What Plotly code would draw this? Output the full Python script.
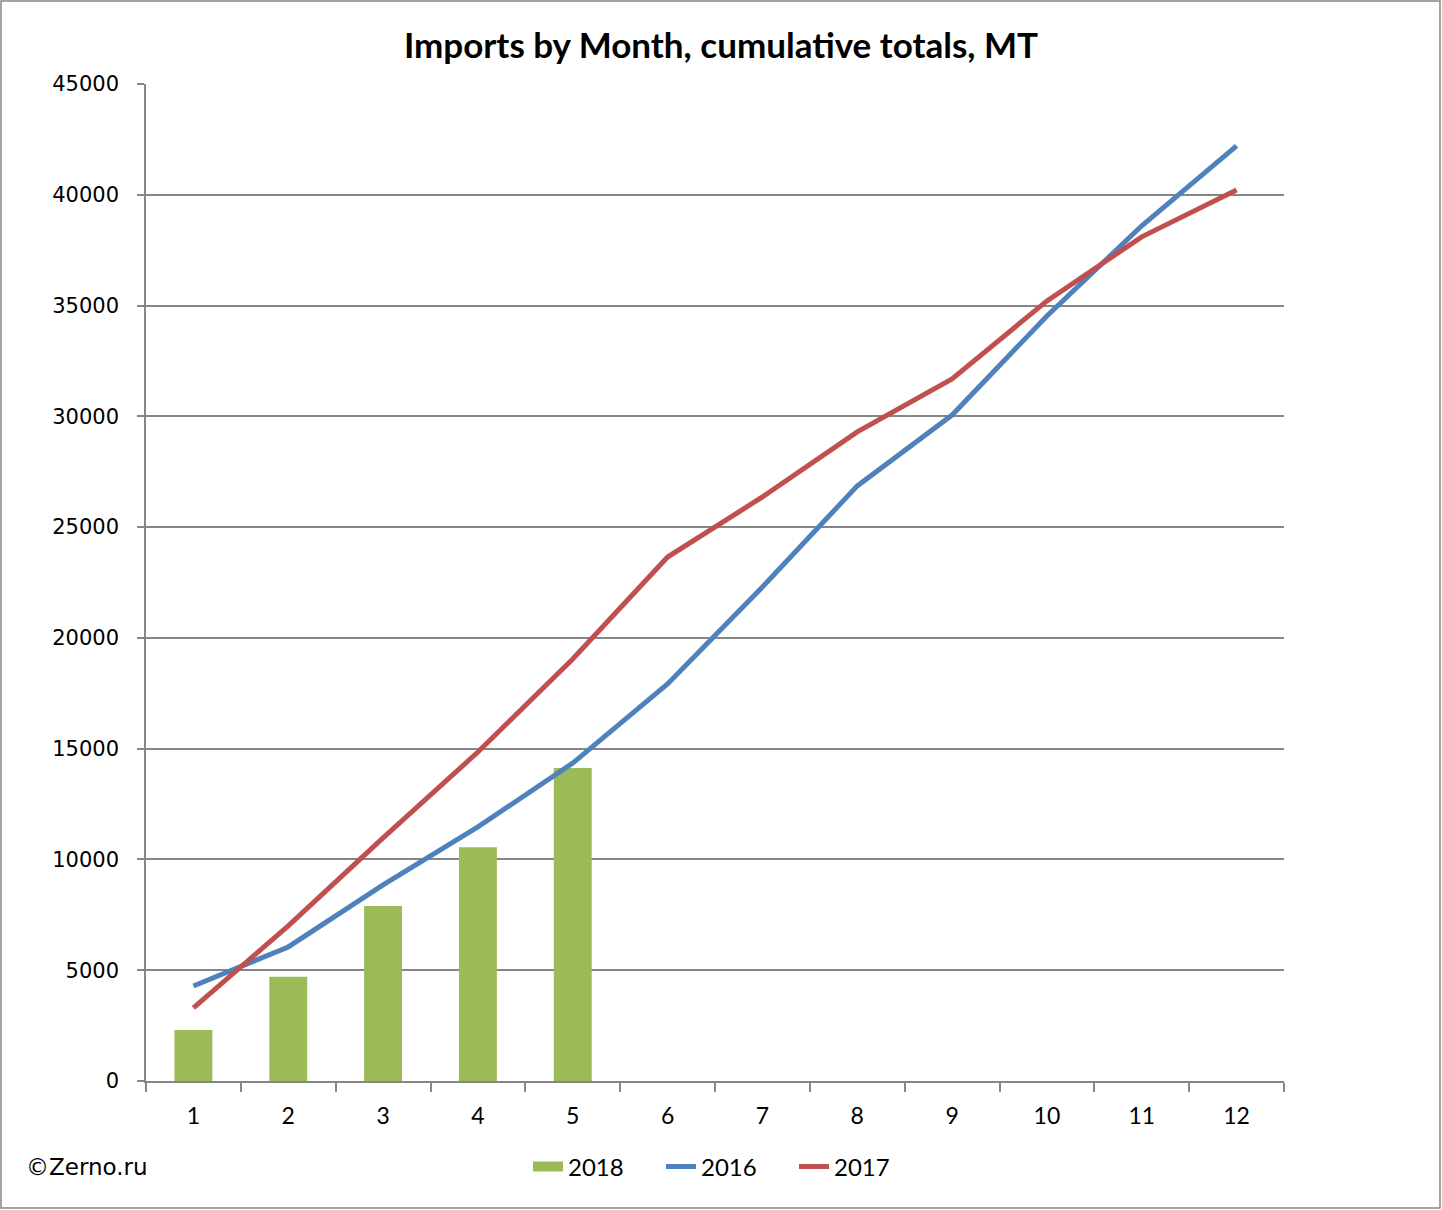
import plotly.graph_objects as go

# months and cumulative imports, MT
months = ["1", "2", "3", "4", "5", "6", "7", "8", "9", "10", "11", "12"]
imports_2018 = [2300, 4700, 7900, 10550, 14130]
imports_2016 = [4290, 6050, 8850, 11470, 14350, 17920, 22300, 26860, 30060, 34530, 38600, 42210]
imports_2017 = [3300, 7000, 10970, 14850, 19050, 23650, 26360, 29300, 31690, 35210, 38100, 40220]

GREEN = "#9BBB59"
BLUE = "#4F81BD"
RED = "#C0504D"
GRID = "#868686"
FONT = "Lato, Carlito, Calibri, sans-serif"
FONT2 = "DejaVu Sans, Verdana, sans-serif"

fig = go.Figure()

fig.add_trace(go.Bar(
    x=months[:len(imports_2018)],
    y=imports_2018,
    name="2018",
    marker=dict(color=GREEN, line=dict(width=0)),
    width=0.4,
    showlegend=False,
))
# legend entry for the bars, drawn as a wide block like the original
fig.add_trace(go.Scatter(
    x=[None], y=[None], name="2018", mode="lines",
    line=dict(color=GREEN, width=18),
))

fig.add_trace(go.Scatter(
    x=months, y=imports_2016, name="2016", mode="lines",
    line=dict(color=BLUE, width=5),
))

fig.add_trace(go.Scatter(
    x=months, y=imports_2017, name="2017", mode="lines",
    line=dict(color=RED, width=5),
))

W, H = 1442, 1210
L, R, T, B = 146, 158, 84, 129
pw, ph = W - L - R, H - T - B

fig.update_layout(
    width=W, height=H,
    margin=dict(l=L, r=R, t=T, b=B),
    paper_bgcolor="white",
    plot_bgcolor="white",
    font=dict(family=FONT, size=22, color="black"),
    title=dict(
        text="<b>Imports by Month, cumulative totals, MT</b>",
        x=0.5, xanchor="center", y=1 - 46 / H, yanchor="middle",
        font=dict(size=35, family=FONT),
    ),
    xaxis=dict(
        type="category",
        range=[-0.5, 11.5],
        showgrid=False,
        showline=True, linecolor=GRID, linewidth=1.5,
        ticks="outside", tickson="boundaries", ticklen=9, tickcolor=GRID, tickwidth=1.5,
        ticklabelstandoff=14,
        tickfont=dict(size=23),
    ),
    yaxis=dict(
        range=[0, 45000], dtick=5000, tickformat="d",
        showgrid=True, gridcolor=GRID, gridwidth=1.5,
        showline=True, linecolor=GRID, linewidth=1.5,
        ticks="outside", ticklen=7, tickcolor=GRID, tickwidth=1.5,
        ticklabelstandoff=14,
        zeroline=False,
        tickfont=dict(size=21, family=FONT2),
    ),
    legend=dict(
        orientation="h",
        x=(528 - L) / pw, xanchor="left",
        y=-(1167 - (T + ph)) / ph, yanchor="middle",
        font=dict(size=24),
        entrywidth=88,
        traceorder="normal",
    ),
    annotations=[dict(
        text="©Zerno.ru",
        xref="paper", yref="paper",
        x=(24 - L) / pw, xanchor="left",
        y=-(1167 - (T + ph)) / ph, yanchor="middle",
        showarrow=False,
        font=dict(size=23, family=FONT2),
    )],
    shapes=[dict(
        type="rect", xref="paper", yref="paper",
        x0=(1 - L) / pw, x1=(W - 2 - L) / pw,
        y0=-(H - 2 - (T + ph)) / ph, y1=(T + ph - 1) / ph,
        line=dict(color=GRID, width=1.5),
        fillcolor="rgba(0,0,0,0)",
        layer="below",
    )],
)

fig.write_html("out.html", config={"displayModeBar": False},
               post_script="document.body.style.margin='0';")
